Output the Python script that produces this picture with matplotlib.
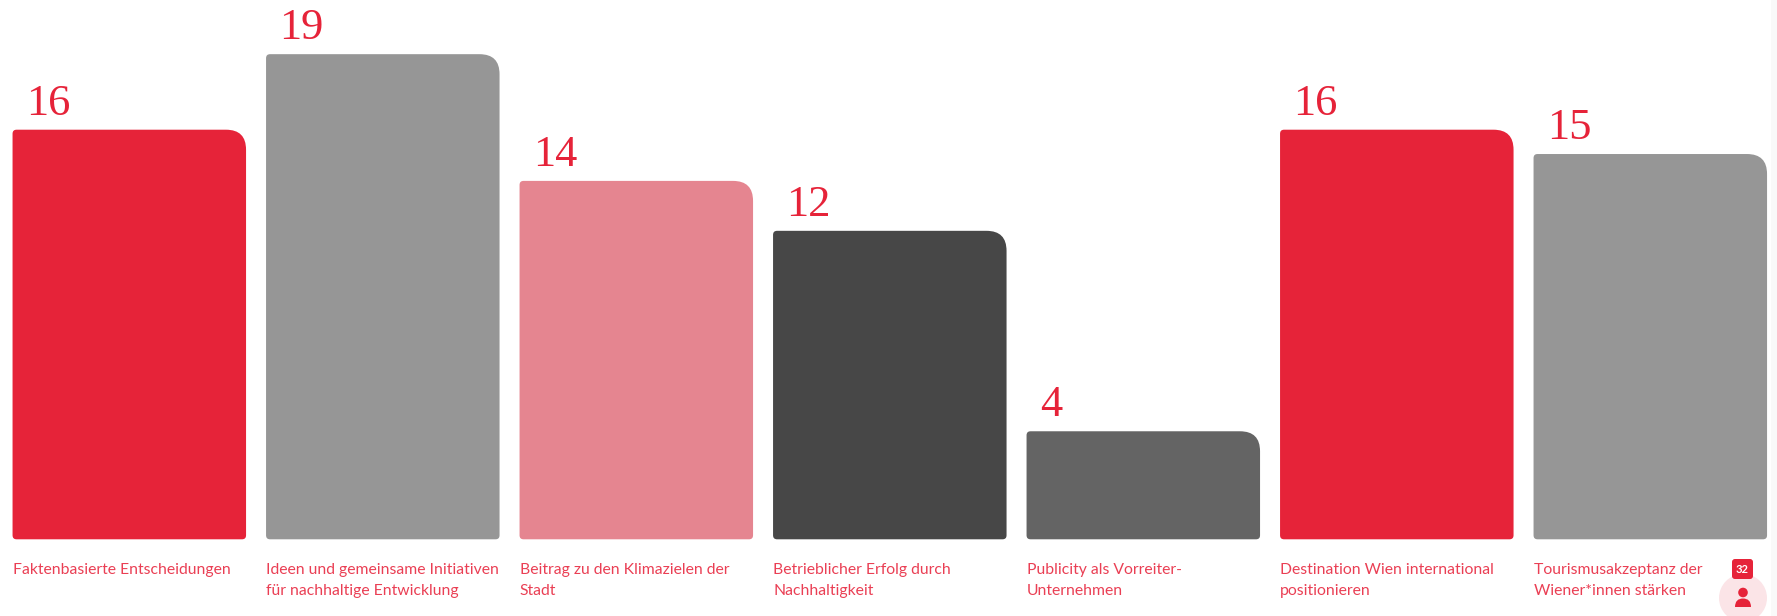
import matplotlib
matplotlib.use("Agg")
import numpy as np
import matplotlib.pyplot as plt
from matplotlib.patches import Circle, FancyBboxPatch, PathPatch
from matplotlib.path import Path

labels = [
    "Faktenbasierte Entscheidungen",
    "Ideen und gemeinsame Initiativen\nfür nachhaltige Entwicklung",
    "Beitrag zu den Klimazielen der\nStadt",
    "Betrieblicher Erfolg durch\nNachhaltigkeit",
    "Publicity als Vorreiter-\nUnternehmen",
    "Destination Wien international\npositionieren",
    "Tourismusakzeptanz der\nWiener*innen stärken",
]
value_labels = ["16", "19", "14", "12", "4", "16", "15"]
heights = [16, 18.95, 14, 12.05, 4.22, 16, 15.05]
colors = ["#e62339", "#969696", "#e58590", "#474747", "#646464", "#e62339", "#969696"]

RED = "#e62339"
W, H = 1777, 616
PX_X = 253.5   # pixels per category
PX_Y = 25.6    # pixels per unit
X0 = 129.3     # pixel centre of first bar
Y0 = 539.3     # pixel row of the baseline
BAR_W = 233.5 / PX_X

fig = plt.figure(figsize=(W / 100, H / 100), dpi=100, facecolor="white")
ax = fig.add_axes([0, 0, 1, 1])
ax.set_xlim(-X0 / PX_X, (W - X0) / PX_X)
ax.set_ylim(-(H - Y0) / PX_Y, Y0 / PX_Y)
ax.axis("off")


def bar_path(x, h, big=20, small=4):
    l, r = x - BAR_W / 2, x + BAR_W / 2
    bx, by = big / PX_X, big / PX_Y
    sx, sy = small / PX_X, small / PX_Y
    verts = [
        (l + sx, 0), (r - sx, 0), (r, 0), (r, sy),
        (r, h - by), (r, h), (r - bx, h),
        (l + sx, h), (l, h), (l, h - sy),
        (l, sy), (l, 0), (l + sx, 0),
    ]
    codes = [
        Path.MOVETO, Path.LINETO, Path.CURVE3, Path.CURVE3,
        Path.LINETO, Path.CURVE3, Path.CURVE3,
        Path.LINETO, Path.CURVE3, Path.CURVE3,
        Path.LINETO, Path.CURVE3, Path.CURVE3,
    ]
    return Path(verts, codes)


for i, h in enumerate(heights):
    ax.add_patch(PathPatch(bar_path(i, h), facecolor=colors[i], edgecolor="none"))
    left = i - BAR_W / 2
    ax.text(left + 13.5 / PX_X, h + 15 / PX_Y, value_labels[i], color=RED,
            fontsize=32, family="Liberation Serif", ha="left", va="baseline")
    ax.text(left, -23.5 / PX_Y, labels[i], color="#ea3f54", fontsize=11.3,
            family="Lato", ha="left", va="top", linespacing=1.62)

# overlay in pixel coordinates for the page widget in the corner
ov = fig.add_axes([0, 0, 1, 1])
ov.set_xlim(0, W)
ov.set_ylim(H, 0)
ov.axis("off")
ov.patch.set_alpha(0)
ov.axvspan(1771, W, color="#f9f9f9", lw=0, zorder=0)
ov.add_patch(Circle((1743, 598), 24, facecolor="#fbe4e7", edgecolor="none", zorder=1))
ov.add_patch(FancyBboxPatch((1734, 561), 17, 16, boxstyle="round,pad=2,rounding_size=3",
                            facecolor=RED, edgecolor="none", zorder=2))
ov.text(1742.5, 569.5, "32", color="white", fontsize=8, fontweight="bold",
        family="Lato", ha="center", va="center", zorder=3)
ov.add_patch(Circle((1743, 592.5), 4.8, facecolor=RED, edgecolor="none", zorder=2))
body = Path(
    [(1735, 607), (1735, 598.5), (1743, 598.5), (1751, 598.5), (1751, 607), (1735, 607)],
    [Path.MOVETO, Path.CURVE3, Path.CURVE3, Path.CURVE3, Path.CURVE3, Path.CLOSEPOLY],
)
ov.add_patch(PathPatch(body, facecolor=RED, edgecolor="none", zorder=2))

fig.savefig("out.png", dpi=100, facecolor="white")
plt.close(fig)
